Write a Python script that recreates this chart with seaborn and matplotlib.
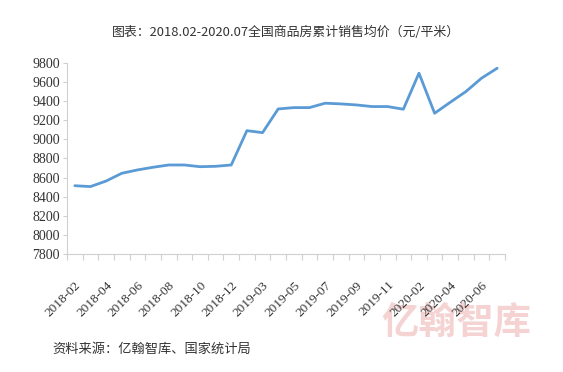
import matplotlib
matplotlib.use("Agg")
import matplotlib.pyplot as plt
import seaborn as sns
import pandas as pd

months = ["2018-02", "2018-03", "2018-04", "2018-05", "2018-06", "2018-07", "2018-08",
          "2018-09", "2018-10", "2018-11", "2018-12",
          "2019-02", "2019-03", "2019-04", "2019-05", "2019-06", "2019-07", "2019-08",
          "2019-09", "2019-10", "2019-11", "2019-12",
          "2020-02", "2020-03", "2020-04", "2020-05", "2020-06", "2020-07"]
price = [8515, 8506, 8564, 8645, 8680, 8708, 8732,
         8732, 8714, 8718, 8732,
         9091, 9070, 9318, 9332, 9332, 9378, 9371,
         9360, 9343, 9343, 9315,
         9692, 9273, 9388, 9500, 9640, 9744]
yticks = list(range(7800, 9801, 200))

df = pd.DataFrame({"idx": range(len(months)), "month": months, "price": price})

sns.set_style("white")
plt.rcParams['font.family'] = ['Liberation Serif', 'Noto Sans CJK SC', 'DejaVu Sans']
cjk = ['Noto Sans CJK SC', 'DejaVu Sans']

fig = plt.figure(figsize=(5.63, 3.72), dpi=100)
ax = fig.add_axes([0.119, 0.317, 0.778, 0.514])
ax.patch.set_alpha(0)

sns.lineplot(data=df, x="idx", y="price", color="#5B9BD5", linewidth=2, ax=ax)

ax.set_xlim(-0.5, len(months) - 0.5)
ax.set_ylim(7800, 9800)
ax.set_yticks(yticks)
ax.set_yticklabels([str(v) for v in yticks], fontsize=10, color="#333333")
ax.tick_params(axis="y", length=3, width=0.8, color="#d0d0d0", pad=2, left=True)

lab_idx = list(range(0, len(months), 2))
ax.set_xticks(lab_idx)
ax.set_xticklabels([months[i] for i in lab_idx], rotation=45, ha="right",
                   rotation_mode="anchor", fontsize=9.5, color="#333333")
ax.set_xticks([i - 0.5 for i in range(len(months) + 1)], minor=True)
ax.tick_params(axis="x", which="major", length=0, pad=18)
ax.tick_params(axis="x", which="minor", length=4, width=0.8, color="#d0d0d0", bottom=True)

ax.set_xlabel("")
ax.set_ylabel("")
for side in ["top", "right"]:
    ax.spines[side].set_visible(False)
for side in ["left", "bottom"]:
    ax.spines[side].set_color("#d0d0d0")
    ax.spines[side].set_linewidth(0.8)

fig.text(0.508, 0.913, "图表：2018.02-2020.07全国商品房累计销售均价（元/平米）",
         ha="center", va="center", fontsize=9.3, color="#333333",
         family=cjk, weight="light")
fig.text(0.093, 0.06, "资料来源：亿翰智库、国家统计局", ha="left", va="center",
         fontsize=9.5, color="#333333", family=cjk, weight="light")
# watermark, behind the axes
fig.text(0.81, 0.134, "亿翰智库", ha="center", va="center", fontsize=27,
         color="#f5d3d3", family=cjk, weight="bold", zorder=-1)

fig.savefig("out.png", dpi=100)
